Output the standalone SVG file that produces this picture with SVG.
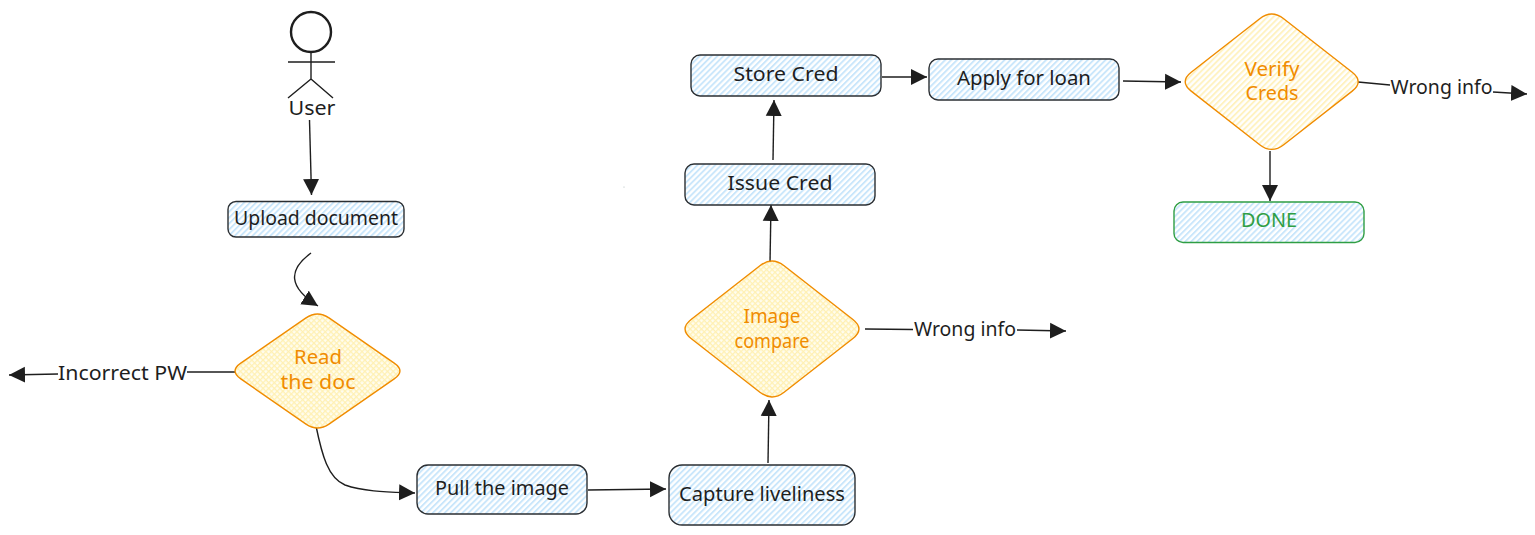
<svg xmlns="http://www.w3.org/2000/svg" width="1535" height="535" viewBox="0 0 1535 535">
<style>
text{font-family:"Noto Sans","Open Sans","DejaVu Sans",sans-serif;font-size:20px;text-anchor:middle;fill:#1e1e1e}
.box{fill:url(#blue);stroke:#2b2f33;stroke-width:1.4}
.dia{stroke:#f08c00;stroke-width:1.4}
.o{fill:#f08c00}
.c{fill:none;stroke:#1e1e1e;stroke-width:1.4;marker-end:url(#arrow)}
.l{fill:none;stroke:#1e1e1e;stroke-width:1.4}
</style>
<defs>
<marker id="arrow" markerUnits="userSpaceOnUse" markerWidth="18" markerHeight="18" refX="16" refY="8.500" orient="auto"><path d="M0 0.500L16 8.500L0 16.500Z" fill="#1e1e1e"/></marker>
<pattern id="blue" width="4.2" height="4.2" patternUnits="userSpaceOnUse" patternTransform="rotate(45)"><rect width="4.2" height="4.2" fill="#fff"/><rect width="1.900" height="4.2" fill="#c9e6fb"/></pattern>
<pattern id="yh" width="4.2" height="4.2" patternUnits="userSpaceOnUse" patternTransform="rotate(45)"><rect width="4.2" height="4.2" fill="#fff"/><rect width="1.900" height="4.2" fill="#fff2c0"/></pattern>
<pattern id="yx" width="4" height="4" patternUnits="userSpaceOnUse" patternTransform="rotate(45)"><rect width="4" height="4" fill="#fffdf0"/><rect width="1.300" height="4" fill="#fff0b3"/><rect width="4" height="1.300" fill="#fff0b3"/></pattern>
</defs>
<g id="connectors">
<path class="c" d="M309.500 120L311.500 195"/>
<path class="c" d="M311 253C288 270 288 287 318 306"/>
<path class="l" d="M235 372L187 372"/>
<path class="c" d="M58 374L9 375"/>
<path class="c" d="M316 426C322 455 328 478 345 485C365 492 390 492 415 493"/>
<path class="c" d="M588 490L666 489"/>
<path class="c" d="M768 463L769 400"/>
<path class="l" d="M865 329L913 329.500"/>
<path class="c" d="M1017 330L1066 331"/>
<path class="c" d="M770 263L771 205"/>
<path class="c" d="M773 160L774 100"/>
<path class="c" d="M882 77L927 77"/>
<path class="c" d="M1123 81L1181 82"/>
<path class="l" d="M1358 82L1390 85"/>
<path class="c" d="M1493 92L1527 94"/>
<path class="c" d="M1270 151L1270 201"/>
</g>
<circle cx="624" cy="187" r="0.500" fill="#9aa"/>
<g id="user" fill="none" stroke="#1e1e1e">
<circle cx="311" cy="32" r="20" stroke-width="2.4"/>
<path stroke-width="1.4" d="M311 52V79M288 62H335M311 79L288 98M311 79L333 98"/>
<text x="312" y="115" textLength="47" lengthAdjust="spacingAndGlyphs" stroke="none">User</text>
</g>
<g id="upload"><rect class="box" x="228" y="201.500" width="176" height="35.500" rx="8"/><text x="316" y="225" textLength="164" lengthAdjust="spacingAndGlyphs">Upload document</text></g>
<g id="read"><path class="dia" fill="url(#yx)" d="M306 317.900Q317.500 310 329 317.900L394.200 363.100Q405.700 371 394.200 378.900L329 424.100Q317.500 432 306 424.100L240.800 378.900Q229.300 371 240.800 363.100Z"/><text class="o" x="318" y="364" textLength="48" lengthAdjust="spacingAndGlyphs">Read</text><text class="o" x="318" y="389" textLength="75" lengthAdjust="spacingAndGlyphs">the doc</text></g>
<g id="incorrect"><text x="122.500" y="380" textLength="129" lengthAdjust="spacingAndGlyphs">Incorrect PW</text></g>
<g id="pull"><rect class="box" x="417" y="465" width="170" height="49" rx="11"/><text x="502" y="495" textLength="134" lengthAdjust="spacingAndGlyphs">Pull the image</text></g>
<g id="capture"><rect class="box" x="669" y="465" width="186" height="60" rx="13"/><text x="762" y="501" textLength="166" lengthAdjust="spacingAndGlyphs">Capture liveliness</text></g>
<g id="compare"><path class="dia" fill="url(#yx)" d="M759.900 265.800Q772 256.300 784.100 265.800L852.900 319.500Q865 329 852.900 338.500L784.100 392.200Q772 401.700 759.900 392.200L691.100 338.500Q679 329 691.100 319.500Z"/><text class="o" x="772" y="323" textLength="57" lengthAdjust="spacingAndGlyphs">Image</text><text class="o" x="772" y="348" textLength="75" lengthAdjust="spacingAndGlyphs">compare</text></g>
<g id="wrong1"><text x="965" y="336" textLength="102" lengthAdjust="spacingAndGlyphs">Wrong info</text></g>
<g id="issue"><rect class="box" x="685" y="164" width="190" height="41" rx="9"/><text x="780" y="190" textLength="105" lengthAdjust="spacingAndGlyphs">Issue Cred</text></g>
<g id="store"><rect class="box" x="691" y="55" width="190" height="41" rx="9"/><text x="786" y="81" textLength="105" lengthAdjust="spacingAndGlyphs">Store Cred</text></g>
<g id="apply"><rect class="box" x="929" y="59" width="190" height="41" rx="9"/><text x="1024" y="85" textLength="134" lengthAdjust="spacingAndGlyphs">Apply for loan</text></g>
<g id="verify"><path class="dia" fill="url(#yh)" d="M1259.700 18.700Q1271.700 9.300 1283.700 18.700L1352.200 72.300Q1364.200 81.700 1352.200 91.100L1283.700 144.700Q1271.700 154.100 1259.700 144.700L1191.200 91.100Q1179.200 81.700 1191.200 72.300Z"/><text class="o" x="1272" y="76" textLength="55" lengthAdjust="spacingAndGlyphs">Verify</text><text class="o" x="1272" y="100" textLength="53" lengthAdjust="spacingAndGlyphs">Creds</text></g>
<g id="wrong2"><text x="1441.500" y="94" textLength="102" lengthAdjust="spacingAndGlyphs">Wrong info</text></g>
<g id="done"><rect x="1174" y="202" width="190" height="40.500" rx="9" fill="url(#blue)" stroke="#2f9e44" stroke-width="1.400"/><text x="1269" y="227" textLength="56" lengthAdjust="spacingAndGlyphs" style="fill:#2f9e44">DONE</text></g>
</svg>
